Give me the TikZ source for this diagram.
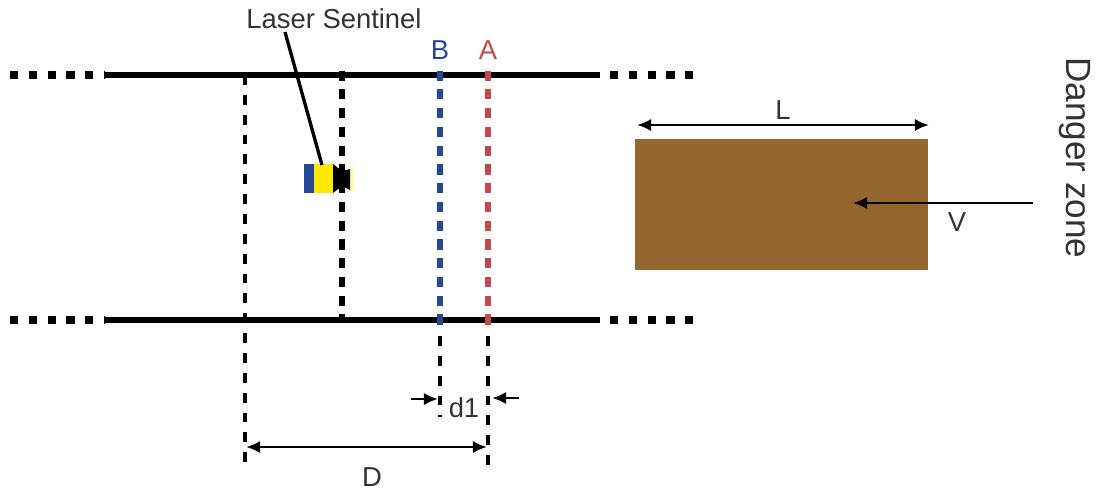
\documentclass[tikz,border=0pt]{standalone}
\usepackage{fontspec}
\setmainfont{Liberation Sans}
\usetikzlibrary{arrows.meta}
\definecolor{brownzone}{HTML}{946731}
\definecolor{railblue}{HTML}{234A90}
\definecolor{railred}{HTML}{C24A4C}
\definecolor{txtgray}{HTML}{333333}
\begin{document}
\begin{tikzpicture}[x=0.02cm, y=-0.02cm,
    main/.style = {draw=none, inner sep=0pt, text=txtgray, font=\fontsize{15.6}{17}\selectfont},
    rail/.style = {line width=3.7pt},
    dots/.style = {line width=4.7pt, dash pattern=on 4.7pt off 6pt},
    thin dash/.style = {line width=2pt, dash pattern=on 5.6pt off 5.7pt},
    beam/.style = {line width=3.6pt, dash pattern=on 5.8pt off 4.88pt},
    dim/.style = {line width=1.5pt, -{Latex[length=8pt, width=7pt]}},
    dimboth/.style = {line width=1.5pt, {Latex[length=8pt, width=7pt]}-{Latex[length=8pt, width=7pt]}}]
    \useasboundingbox (0,0) rectangle (1100,491);

    % rails
    \coordinate (tl0) at (10,75);
    \coordinate (tl) at (105,75);
    \coordinate (tr) at (600,75);
    \coordinate (tr1) at (610,75);
    \coordinate (tr0) at (694,75);
    \coordinate (bl0) at (10,320);
    \coordinate (bl) at (105,320);
    \coordinate (br) at (600,320);
    \coordinate (br1) at (610,320);
    \coordinate (br0) at (694,320);
    \draw[rail] (tl) -- (tr);
    \draw[rail] (bl) -- (br);
    \draw[dots] (tl0) -- (tl);
    \draw[dots] (bl0) -- (bl);
    \draw[dots] (tr1) -- (tr0);
    \draw[dots] (br1) -- (br0);

    % sections
    \coordinate (s0) at (245,75);
    \coordinate (s1) at (245,466);
    \coordinate (m0) at (342,70.5);
    \coordinate (m1) at (342,320);
    \coordinate (b0) at (440,70.5);
    \coordinate (b1) at (440,325.5);
    \coordinate (b2) at (440,336);
    \coordinate (b3) at (440,417);
    \coordinate (a0) at (488,70.5);
    \coordinate (a1) at (488,325.5);
    \coordinate (a2) at (488,336);
    \coordinate (a3) at (488,466);
    \draw[thin dash] (s0) -- (s1);
    \draw[thin dash] (b2) -- (b3);
    \draw[thin dash] (a2) -- (a3);
    \draw[beam] (m0) -- (m1);
    \draw[beam, railblue] (b0) -- (b1);
    \draw[beam, railred] (a0) -- (a1);
    \node[main, text=railblue] (B) at (440,50) {B};
    \node[main, text=railred] (A) at (488,50) {A};

    % sentinel
    \node[main] (sentinel) at (334,19) {Laser Sentinel};
    \node[draw=none, fill=railblue, minimum width=0.2cm, minimum height=0.58cm, inner sep=0pt] (cam1) at (309,178.5) {};
    \node[draw=none, fill=yellow!90!orange, minimum width=0.38cm, minimum height=0.58cm, inner sep=0pt] (cam2) at (323.5,178.5) {};
    \fill[yellow!30] (350,167) rectangle (354,190);
    \fill (333,164) -- (342,171) -- (350,169) -- (350,190) -- (342,186) -- (333,193) -- cycle;
    \coordinate (sentineltop) at (285,32);
    \coordinate (camtop) at (322,165);
    \draw[line width=1.9pt] (sentineltop) -- (camtop);

    % danger zone
    \node[draw=none, fill=brownzone, minimum width=5.88cm, minimum height=2.62cm, inner sep=0pt] (zone) at (781.5,204.5) {};
    \coordinate (l0) at (637,125);
    \coordinate (l1) at (929,125);
    \draw[dimboth] (l0) -- (l1);
    \node[main] (L) at (783,110) {L};
    \coordinate (v0) at (1033,203);
    \coordinate (v1) at (853,203);
    \draw[dim] (v0) -- (v1);
    \node[main] (V) at (957,222) {V};
    \node[main, rotate=-90, font=\fontsize{20}{22}\selectfont] (danger) at (1075,158) {Danger zone};

    % distances
    \coordinate (d0) at (411,399);
    \coordinate (d1) at (438,399);
    \coordinate (d2) at (519,398);
    \coordinate (d3) at (492,398);
    \draw[dim] (d0) -- (d1);
    \draw[dim] (d2) -- (d3);
    \node[main] (dist) at (464,408) {d1};
    \coordinate (e0) at (246,447);
    \coordinate (e1) at (487,447);
    \draw[dimboth] (e0) -- (e1);
    \node[main] (Dlab) at (372,477) {D};
\end{tikzpicture}
\end{document}
